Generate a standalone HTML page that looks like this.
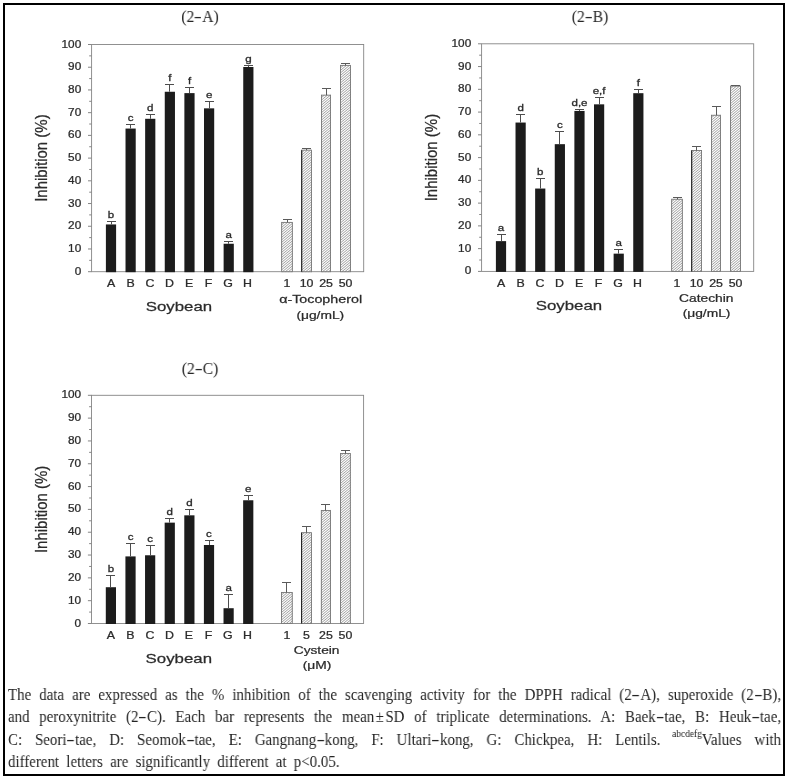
<!DOCTYPE html>
<html lang="en"><head><meta charset="utf-8"><title>Figure 2</title>
<style>
html,body{margin:0;padding:0;background:#fff;}
body{width:789px;height:780px;position:relative;overflow:hidden;font-family:"Liberation Serif","Noto Serif CJK SC",serif;}
#frame{position:absolute;left:3px;top:3px;width:778px;height:769px;border:2px solid #000;}
svg{position:absolute;left:0;top:0;will-change:transform;}
#cap,.ttl{will-change:transform;}
svg text{font-family:"Liberation Sans",sans-serif;fill:#2b2b2b;stroke:#2b2b2b;stroke-width:0.25px;}
.t10{font-size:10px;}
.tx{font-size:10.3px;}
.t9{font-size:9.8px;stroke-width:0.3px;}
.t115{font-size:11.5px;}
.soy{font-size:13.7px;}
.ylab{font-size:15px;}
.ttl{position:absolute;width:80px;text-align:center;transform:scaleX(0.95);font-size:16.6px;line-height:20px;color:#262626;white-space:nowrap;}
.h2{display:inline-block;transform:scaleX(1.5);margin:0 1.4px;}
#cap{position:absolute;left:8px;top:683.5px;width:849.5px;transform:scaleX(0.91);transform-origin:0 0;font-size:16.4px;line-height:22.4px;color:#242424;}
#cap div{text-align:justify;text-align-last:justify;white-space:nowrap;height:22.4px;}
#cap div.last{text-align:left;text-align-last:left;word-spacing:3.9px;}
#cap sup{font-size:10.6px;line-height:0;vertical-align:7.6px;letter-spacing:-0.1px;color:#1c1c1c;margin-left:-1.5px;}
.pm{margin:0 1.6px;}
.h{display:inline-block;transform:scaleX(1.7);margin:0 2px;}
</style></head><body>
<div id="frame"></div>
<svg width="789" height="780" viewBox="0 0 789 780">
<rect x="91.60" y="44.50" width="272.10" height="227.20" fill="none" stroke="#858585" stroke-width="0.9"/>
<line x1="88.00" y1="271.70" x2="91.60" y2="271.70" stroke="#858585" stroke-width="1"/>
<text class="t10" text-anchor="end" transform="translate(81.20,274.70) scale(1.18,1)">0</text>
<line x1="89.20" y1="260.34" x2="91.60" y2="260.34" stroke="#858585" stroke-width="1"/>
<line x1="88.00" y1="248.98" x2="91.60" y2="248.98" stroke="#858585" stroke-width="1"/>
<text class="t10" text-anchor="end" transform="translate(81.20,251.98) scale(1.18,1)">10</text>
<line x1="89.20" y1="237.62" x2="91.60" y2="237.62" stroke="#858585" stroke-width="1"/>
<line x1="88.00" y1="226.26" x2="91.60" y2="226.26" stroke="#858585" stroke-width="1"/>
<text class="t10" text-anchor="end" transform="translate(81.20,229.26) scale(1.18,1)">20</text>
<line x1="89.20" y1="214.90" x2="91.60" y2="214.90" stroke="#858585" stroke-width="1"/>
<line x1="88.00" y1="203.54" x2="91.60" y2="203.54" stroke="#858585" stroke-width="1"/>
<text class="t10" text-anchor="end" transform="translate(81.20,206.54) scale(1.18,1)">30</text>
<line x1="89.20" y1="192.18" x2="91.60" y2="192.18" stroke="#858585" stroke-width="1"/>
<line x1="88.00" y1="180.82" x2="91.60" y2="180.82" stroke="#858585" stroke-width="1"/>
<text class="t10" text-anchor="end" transform="translate(81.20,183.82) scale(1.18,1)">40</text>
<line x1="89.20" y1="169.46" x2="91.60" y2="169.46" stroke="#858585" stroke-width="1"/>
<line x1="88.00" y1="158.10" x2="91.60" y2="158.10" stroke="#858585" stroke-width="1"/>
<text class="t10" text-anchor="end" transform="translate(81.20,161.10) scale(1.18,1)">50</text>
<line x1="89.20" y1="146.74" x2="91.60" y2="146.74" stroke="#858585" stroke-width="1"/>
<line x1="88.00" y1="135.38" x2="91.60" y2="135.38" stroke="#858585" stroke-width="1"/>
<text class="t10" text-anchor="end" transform="translate(81.20,138.38) scale(1.18,1)">60</text>
<line x1="89.20" y1="124.02" x2="91.60" y2="124.02" stroke="#858585" stroke-width="1"/>
<line x1="88.00" y1="112.66" x2="91.60" y2="112.66" stroke="#858585" stroke-width="1"/>
<text class="t10" text-anchor="end" transform="translate(81.20,115.66) scale(1.18,1)">70</text>
<line x1="89.20" y1="101.30" x2="91.60" y2="101.30" stroke="#858585" stroke-width="1"/>
<line x1="88.00" y1="89.94" x2="91.60" y2="89.94" stroke="#858585" stroke-width="1"/>
<text class="t10" text-anchor="end" transform="translate(81.20,92.94) scale(1.18,1)">80</text>
<line x1="89.20" y1="78.58" x2="91.60" y2="78.58" stroke="#858585" stroke-width="1"/>
<line x1="88.00" y1="67.22" x2="91.60" y2="67.22" stroke="#858585" stroke-width="1"/>
<text class="t10" text-anchor="end" transform="translate(81.20,70.22) scale(1.18,1)">90</text>
<line x1="89.20" y1="55.86" x2="91.60" y2="55.86" stroke="#858585" stroke-width="1"/>
<line x1="88.00" y1="44.50" x2="91.60" y2="44.50" stroke="#858585" stroke-width="1"/>
<text class="t10" text-anchor="end" transform="translate(81.20,47.50) scale(1.18,1)">100</text>
<text class="ylab" text-anchor="middle" transform="translate(47.40,158.10) rotate(-90) scale(1,1.12)">Inhibition (%)</text>
<rect x="105.90" y="224.44" width="10.2" height="47.76" fill="#1c1c1c"/>
<path d="M111.50 224.44V221.50M107.00 221.50H116.00" stroke="#4d4d4d" stroke-width="1" fill="none"/>
<text class="t9" text-anchor="middle" transform="translate(111.00,218.20) scale(1.18,1)">b</text>
<text class="tx" text-anchor="middle" transform="translate(111.00,286.90) scale(1.2,1)">A</text>
<rect x="125.52" y="128.56" width="10.2" height="143.64" fill="#1c1c1c"/>
<path d="M130.50 128.56V124.50M126.00 124.50H135.00" stroke="#4d4d4d" stroke-width="1" fill="none"/>
<text class="t9" text-anchor="middle" transform="translate(130.62,121.00) scale(1.18,1)">c</text>
<text class="tx" text-anchor="middle" transform="translate(130.50,286.90) scale(1.2,1)">B</text>
<rect x="145.14" y="118.79" width="10.2" height="153.41" fill="#1c1c1c"/>
<path d="M150.50 118.79V114.50M146.00 114.50H155.00" stroke="#4d4d4d" stroke-width="1" fill="none"/>
<text class="t9" text-anchor="middle" transform="translate(150.24,111.00) scale(1.18,1)">d</text>
<text class="tx" text-anchor="middle" transform="translate(150.00,286.90) scale(1.2,1)">C</text>
<rect x="164.76" y="91.76" width="10.2" height="180.44" fill="#1c1c1c"/>
<path d="M169.50 91.76V84.50M165.00 84.50H174.00" stroke="#4d4d4d" stroke-width="1" fill="none"/>
<text class="t9" text-anchor="middle" transform="translate(169.86,80.90) scale(1.18,1)">f</text>
<text class="tx" text-anchor="middle" transform="translate(169.50,286.90) scale(1.2,1)">D</text>
<rect x="184.38" y="93.12" width="10.2" height="179.08" fill="#1c1c1c"/>
<path d="M189.50 93.12V87.50M185.00 87.50H194.00" stroke="#4d4d4d" stroke-width="1" fill="none"/>
<text class="t9" text-anchor="middle" transform="translate(189.48,83.80) scale(1.18,1)">f</text>
<text class="tx" text-anchor="middle" transform="translate(189.00,286.90) scale(1.2,1)">E</text>
<rect x="204.00" y="108.34" width="10.2" height="163.86" fill="#1c1c1c"/>
<path d="M209.50 108.34V101.50M205.00 101.50H214.00" stroke="#4d4d4d" stroke-width="1" fill="none"/>
<text class="t9" text-anchor="middle" transform="translate(209.10,98.00) scale(1.18,1)">e</text>
<text class="tx" text-anchor="middle" transform="translate(208.50,286.90) scale(1.2,1)">F</text>
<rect x="223.62" y="243.75" width="10.2" height="28.45" fill="#1c1c1c"/>
<path d="M228.50 243.75V241.50M224.00 241.50H233.00" stroke="#4d4d4d" stroke-width="1" fill="none"/>
<text class="t9" text-anchor="middle" transform="translate(228.72,238.10) scale(1.18,1)">a</text>
<text class="tx" text-anchor="middle" transform="translate(228.00,286.90) scale(1.2,1)">G</text>
<rect x="243.24" y="66.99" width="10.2" height="205.21" fill="#1c1c1c"/>
<path d="M248.50 66.99V65.50M244.00 65.50H253.00" stroke="#4d4d4d" stroke-width="1" fill="none"/>
<text class="t9" text-anchor="middle" transform="translate(248.34,62.10) scale(1.18,1)">g</text>
<text class="tx" text-anchor="middle" transform="translate(247.50,286.90) scale(1.2,1)">H</text>
<rect x="281.65" y="222.40" width="10.70" height="49.30" fill="#fbfbfb"/>
<path d="M281.20 222.70L281.56 222.40M281.20 225.20L284.56 222.40M281.20 227.70L287.56 222.40M281.20 230.20L290.56 222.40M281.20 232.70L292.80 223.03M281.20 235.20L292.80 225.53M281.20 237.70L292.80 228.03M281.20 240.20L292.80 230.53M281.20 242.70L292.80 233.03M281.20 245.20L292.80 235.53M281.20 247.70L292.80 238.03M281.20 250.20L292.80 240.53M281.20 252.70L292.80 243.03M281.20 255.20L292.80 245.53M281.20 257.70L292.80 248.03M281.20 260.20L292.80 250.53M281.20 262.70L292.80 253.03M281.20 265.20L292.80 255.53M281.20 267.70L292.80 258.03M281.20 270.20L292.80 260.53M282.40 271.70L292.80 263.03M285.40 271.70L292.80 265.53M288.40 271.70L292.80 268.03M291.40 271.70L292.80 270.53" stroke="#7a7a7a" stroke-width="0.7" fill="none"/>
<rect x="281.65" y="222.40" width="10.70" height="49.30" fill="none" stroke="#777" stroke-width="0.9"/>
<path d="M287.50 222.40V219.50M283.00 219.50H292.00" stroke="#5a5a5a" stroke-width="1" fill="none"/>
<text class="tx" text-anchor="middle" transform="translate(287.00,286.90) scale(1.2,1)">1</text>
<rect x="301.65" y="150.15" width="9.90" height="121.55" fill="#fbfbfb"/>
<path d="M301.20 150.45L301.56 150.15M301.20 152.95L304.56 150.15M301.20 155.45L307.56 150.15M301.20 157.95L310.56 150.15M301.20 160.45L312.00 151.45M301.20 162.95L312.00 153.95M301.20 165.45L312.00 156.45M301.20 167.95L312.00 158.95M301.20 170.45L312.00 161.45M301.20 172.95L312.00 163.95M301.20 175.45L312.00 166.45M301.20 177.95L312.00 168.95M301.20 180.45L312.00 171.45M301.20 182.95L312.00 173.95M301.20 185.45L312.00 176.45M301.20 187.95L312.00 178.95M301.20 190.45L312.00 181.45M301.20 192.95L312.00 183.95M301.20 195.45L312.00 186.45M301.20 197.95L312.00 188.95M301.20 200.45L312.00 191.45M301.20 202.95L312.00 193.95M301.20 205.45L312.00 196.45M301.20 207.95L312.00 198.95M301.20 210.45L312.00 201.45M301.20 212.95L312.00 203.95M301.20 215.45L312.00 206.45M301.20 217.95L312.00 208.95M301.20 220.45L312.00 211.45M301.20 222.95L312.00 213.95M301.20 225.45L312.00 216.45M301.20 227.95L312.00 218.95M301.20 230.45L312.00 221.45M301.20 232.95L312.00 223.95M301.20 235.45L312.00 226.45M301.20 237.95L312.00 228.95M301.20 240.45L312.00 231.45M301.20 242.95L312.00 233.95M301.20 245.45L312.00 236.45M301.20 247.95L312.00 238.95M301.20 250.45L312.00 241.45M301.20 252.95L312.00 243.95M301.20 255.45L312.00 246.45M301.20 257.95L312.00 248.95M301.20 260.45L312.00 251.45M301.20 262.95L312.00 253.95M301.20 265.45L312.00 256.45M301.20 267.95L312.00 258.95M301.20 270.45L312.00 261.45M302.70 271.70L312.00 263.95M305.70 271.70L312.00 266.45M308.70 271.70L312.00 268.95M311.70 271.70L312.00 271.45" stroke="#7a7a7a" stroke-width="0.7" fill="none"/>
<rect x="301.65" y="150.15" width="9.90" height="121.55" fill="none" stroke="#777" stroke-width="0.9"/>
<line x1="301.70" y1="150.15" x2="301.70" y2="271.70" stroke="#222" stroke-width="1.1"/>
<path d="M306.50 150.15V148.50M302.00 148.50H311.00" stroke="#5a5a5a" stroke-width="1" fill="none"/>
<text class="tx" text-anchor="middle" transform="translate(306.60,286.90) scale(1.2,1)">10</text>
<rect x="321.45" y="95.17" width="9.10" height="176.53" fill="#fbfbfb"/>
<path d="M321.00 95.47L321.36 95.17M321.00 97.97L324.36 95.17M321.00 100.47L327.36 95.17M321.00 102.97L330.36 95.17M321.00 105.47L331.00 97.13M321.00 107.97L331.00 99.63M321.00 110.47L331.00 102.13M321.00 112.97L331.00 104.63M321.00 115.47L331.00 107.13M321.00 117.97L331.00 109.63M321.00 120.47L331.00 112.13M321.00 122.97L331.00 114.63M321.00 125.47L331.00 117.13M321.00 127.97L331.00 119.63M321.00 130.47L331.00 122.13M321.00 132.97L331.00 124.63M321.00 135.47L331.00 127.13M321.00 137.97L331.00 129.63M321.00 140.47L331.00 132.13M321.00 142.97L331.00 134.63M321.00 145.47L331.00 137.13M321.00 147.97L331.00 139.63M321.00 150.47L331.00 142.13M321.00 152.97L331.00 144.63M321.00 155.47L331.00 147.13M321.00 157.97L331.00 149.63M321.00 160.47L331.00 152.13M321.00 162.97L331.00 154.63M321.00 165.47L331.00 157.13M321.00 167.97L331.00 159.63M321.00 170.47L331.00 162.13M321.00 172.97L331.00 164.63M321.00 175.47L331.00 167.13M321.00 177.97L331.00 169.63M321.00 180.47L331.00 172.13M321.00 182.97L331.00 174.63M321.00 185.47L331.00 177.13M321.00 187.97L331.00 179.63M321.00 190.47L331.00 182.13M321.00 192.97L331.00 184.63M321.00 195.47L331.00 187.13M321.00 197.97L331.00 189.63M321.00 200.47L331.00 192.13M321.00 202.97L331.00 194.63M321.00 205.47L331.00 197.13M321.00 207.97L331.00 199.63M321.00 210.47L331.00 202.13M321.00 212.97L331.00 204.63M321.00 215.47L331.00 207.13M321.00 217.97L331.00 209.63M321.00 220.47L331.00 212.13M321.00 222.97L331.00 214.63M321.00 225.47L331.00 217.13M321.00 227.97L331.00 219.63M321.00 230.47L331.00 222.13M321.00 232.97L331.00 224.63M321.00 235.47L331.00 227.13M321.00 237.97L331.00 229.63M321.00 240.47L331.00 232.13M321.00 242.97L331.00 234.63M321.00 245.47L331.00 237.13M321.00 247.97L331.00 239.63M321.00 250.47L331.00 242.13M321.00 252.97L331.00 244.63M321.00 255.47L331.00 247.13M321.00 257.97L331.00 249.63M321.00 260.47L331.00 252.13M321.00 262.97L331.00 254.63M321.00 265.47L331.00 257.13M321.00 267.97L331.00 259.63M321.00 270.47L331.00 262.13M322.52 271.70L331.00 264.63M325.52 271.70L331.00 267.13M328.52 271.70L331.00 269.63" stroke="#7a7a7a" stroke-width="0.7" fill="none"/>
<rect x="321.45" y="95.17" width="9.10" height="176.53" fill="none" stroke="#777" stroke-width="0.9"/>
<path d="M326.50 95.17V88.50M322.00 88.50H331.00" stroke="#5a5a5a" stroke-width="1" fill="none"/>
<text class="tx" text-anchor="middle" transform="translate(326.00,286.90) scale(1.2,1)">25</text>
<rect x="340.55" y="65.40" width="9.90" height="206.30" fill="#fbfbfb"/>
<path d="M340.10 65.70L340.46 65.40M340.10 68.20L343.46 65.40M340.10 70.70L346.46 65.40M340.10 73.20L349.46 65.40M340.10 75.70L350.90 66.70M340.10 78.20L350.90 69.20M340.10 80.70L350.90 71.70M340.10 83.20L350.90 74.20M340.10 85.70L350.90 76.70M340.10 88.20L350.90 79.20M340.10 90.70L350.90 81.70M340.10 93.20L350.90 84.20M340.10 95.70L350.90 86.70M340.10 98.20L350.90 89.20M340.10 100.70L350.90 91.70M340.10 103.20L350.90 94.20M340.10 105.70L350.90 96.70M340.10 108.20L350.90 99.20M340.10 110.70L350.90 101.70M340.10 113.20L350.90 104.20M340.10 115.70L350.90 106.70M340.10 118.20L350.90 109.20M340.10 120.70L350.90 111.70M340.10 123.20L350.90 114.20M340.10 125.70L350.90 116.70M340.10 128.20L350.90 119.20M340.10 130.70L350.90 121.70M340.10 133.20L350.90 124.20M340.10 135.70L350.90 126.70M340.10 138.20L350.90 129.20M340.10 140.70L350.90 131.70M340.10 143.20L350.90 134.20M340.10 145.70L350.90 136.70M340.10 148.20L350.90 139.20M340.10 150.70L350.90 141.70M340.10 153.20L350.90 144.20M340.10 155.70L350.90 146.70M340.10 158.20L350.90 149.20M340.10 160.70L350.90 151.70M340.10 163.20L350.90 154.20M340.10 165.70L350.90 156.70M340.10 168.20L350.90 159.20M340.10 170.70L350.90 161.70M340.10 173.20L350.90 164.20M340.10 175.70L350.90 166.70M340.10 178.20L350.90 169.20M340.10 180.70L350.90 171.70M340.10 183.20L350.90 174.20M340.10 185.70L350.90 176.70M340.10 188.20L350.90 179.20M340.10 190.70L350.90 181.70M340.10 193.20L350.90 184.20M340.10 195.70L350.90 186.70M340.10 198.20L350.90 189.20M340.10 200.70L350.90 191.70M340.10 203.20L350.90 194.20M340.10 205.70L350.90 196.70M340.10 208.20L350.90 199.20M340.10 210.70L350.90 201.70M340.10 213.20L350.90 204.20M340.10 215.70L350.90 206.70M340.10 218.20L350.90 209.20M340.10 220.70L350.90 211.70M340.10 223.20L350.90 214.20M340.10 225.70L350.90 216.70M340.10 228.20L350.90 219.20M340.10 230.70L350.90 221.70M340.10 233.20L350.90 224.20M340.10 235.70L350.90 226.70M340.10 238.20L350.90 229.20M340.10 240.70L350.90 231.70M340.10 243.20L350.90 234.20M340.10 245.70L350.90 236.70M340.10 248.20L350.90 239.20M340.10 250.70L350.90 241.70M340.10 253.20L350.90 244.20M340.10 255.70L350.90 246.70M340.10 258.20L350.90 249.20M340.10 260.70L350.90 251.70M340.10 263.20L350.90 254.20M340.10 265.70L350.90 256.70M340.10 268.20L350.90 259.20M340.10 270.70L350.90 261.70M341.90 271.70L350.90 264.20M344.90 271.70L350.90 266.70M347.90 271.70L350.90 269.20" stroke="#7a7a7a" stroke-width="0.7" fill="none"/>
<rect x="340.55" y="65.40" width="9.90" height="206.30" fill="none" stroke="#777" stroke-width="0.9"/>
<path d="M345.50 65.40V63.50M341.00 63.50H350.00" stroke="#5a5a5a" stroke-width="1" fill="none"/>
<text class="tx" text-anchor="middle" transform="translate(345.50,286.90) scale(1.2,1)">50</text>
<text class="soy" text-anchor="middle" transform="translate(178.90,310.70) scale(1.23,1)">Soybean</text>
<text class="t115" text-anchor="middle" transform="translate(320.61,302.80) scale(1.245,1)">α-Tocopherol</text>
<text class="t115" text-anchor="middle" transform="translate(320.31,318.70) scale(1.2,1)">(μg/mL)</text>
<rect x="481.60" y="43.80" width="272.10" height="227.60" fill="none" stroke="#858585" stroke-width="0.9"/>
<line x1="478.00" y1="271.40" x2="481.60" y2="271.40" stroke="#858585" stroke-width="1"/>
<text class="t10" text-anchor="end" transform="translate(471.20,274.40) scale(1.18,1)">0</text>
<line x1="479.20" y1="260.02" x2="481.60" y2="260.02" stroke="#858585" stroke-width="1"/>
<line x1="478.00" y1="248.64" x2="481.60" y2="248.64" stroke="#858585" stroke-width="1"/>
<text class="t10" text-anchor="end" transform="translate(471.20,251.64) scale(1.18,1)">10</text>
<line x1="479.20" y1="237.26" x2="481.60" y2="237.26" stroke="#858585" stroke-width="1"/>
<line x1="478.00" y1="225.88" x2="481.60" y2="225.88" stroke="#858585" stroke-width="1"/>
<text class="t10" text-anchor="end" transform="translate(471.20,228.88) scale(1.18,1)">20</text>
<line x1="479.20" y1="214.50" x2="481.60" y2="214.50" stroke="#858585" stroke-width="1"/>
<line x1="478.00" y1="203.12" x2="481.60" y2="203.12" stroke="#858585" stroke-width="1"/>
<text class="t10" text-anchor="end" transform="translate(471.20,206.12) scale(1.18,1)">30</text>
<line x1="479.20" y1="191.74" x2="481.60" y2="191.74" stroke="#858585" stroke-width="1"/>
<line x1="478.00" y1="180.36" x2="481.60" y2="180.36" stroke="#858585" stroke-width="1"/>
<text class="t10" text-anchor="end" transform="translate(471.20,183.36) scale(1.18,1)">40</text>
<line x1="479.20" y1="168.98" x2="481.60" y2="168.98" stroke="#858585" stroke-width="1"/>
<line x1="478.00" y1="157.60" x2="481.60" y2="157.60" stroke="#858585" stroke-width="1"/>
<text class="t10" text-anchor="end" transform="translate(471.20,160.60) scale(1.18,1)">50</text>
<line x1="479.20" y1="146.22" x2="481.60" y2="146.22" stroke="#858585" stroke-width="1"/>
<line x1="478.00" y1="134.84" x2="481.60" y2="134.84" stroke="#858585" stroke-width="1"/>
<text class="t10" text-anchor="end" transform="translate(471.20,137.84) scale(1.18,1)">60</text>
<line x1="479.20" y1="123.46" x2="481.60" y2="123.46" stroke="#858585" stroke-width="1"/>
<line x1="478.00" y1="112.08" x2="481.60" y2="112.08" stroke="#858585" stroke-width="1"/>
<text class="t10" text-anchor="end" transform="translate(471.20,115.08) scale(1.18,1)">70</text>
<line x1="479.20" y1="100.70" x2="481.60" y2="100.70" stroke="#858585" stroke-width="1"/>
<line x1="478.00" y1="89.32" x2="481.60" y2="89.32" stroke="#858585" stroke-width="1"/>
<text class="t10" text-anchor="end" transform="translate(471.20,92.32) scale(1.18,1)">80</text>
<line x1="479.20" y1="77.94" x2="481.60" y2="77.94" stroke="#858585" stroke-width="1"/>
<line x1="478.00" y1="66.56" x2="481.60" y2="66.56" stroke="#858585" stroke-width="1"/>
<text class="t10" text-anchor="end" transform="translate(471.20,69.56) scale(1.18,1)">90</text>
<line x1="479.20" y1="55.18" x2="481.60" y2="55.18" stroke="#858585" stroke-width="1"/>
<line x1="478.00" y1="43.80" x2="481.60" y2="43.80" stroke="#858585" stroke-width="1"/>
<text class="t10" text-anchor="end" transform="translate(471.20,46.80) scale(1.18,1)">100</text>
<text class="ylab" text-anchor="middle" transform="translate(437.40,157.60) rotate(-90) scale(1,1.12)">Inhibition (%)</text>
<rect x="495.90" y="241.13" width="10.2" height="30.77" fill="#1c1c1c"/>
<path d="M501.50 241.13V234.50M497.00 234.50H506.00" stroke="#4d4d4d" stroke-width="1" fill="none"/>
<text class="t9" text-anchor="middle" transform="translate(501.00,231.00) scale(1.18,1)">a</text>
<text class="tx" text-anchor="middle" transform="translate(501.00,286.60) scale(1.2,1)">A</text>
<rect x="515.52" y="122.55" width="10.2" height="149.35" fill="#1c1c1c"/>
<path d="M520.50 122.55V114.50M516.00 114.50H525.00" stroke="#4d4d4d" stroke-width="1" fill="none"/>
<text class="t9" text-anchor="middle" transform="translate(520.62,111.00) scale(1.18,1)">d</text>
<text class="tx" text-anchor="middle" transform="translate(520.50,286.60) scale(1.2,1)">B</text>
<rect x="535.14" y="188.55" width="10.2" height="83.35" fill="#1c1c1c"/>
<path d="M540.50 188.55V178.50M536.00 178.50H545.00" stroke="#4d4d4d" stroke-width="1" fill="none"/>
<text class="t9" text-anchor="middle" transform="translate(540.24,174.90) scale(1.18,1)">b</text>
<text class="tx" text-anchor="middle" transform="translate(540.00,286.60) scale(1.2,1)">C</text>
<rect x="554.76" y="144.17" width="10.2" height="127.73" fill="#1c1c1c"/>
<path d="M559.50 144.17V131.50M555.00 131.50H564.00" stroke="#4d4d4d" stroke-width="1" fill="none"/>
<text class="t9" text-anchor="middle" transform="translate(559.86,127.90) scale(1.18,1)">c</text>
<text class="tx" text-anchor="middle" transform="translate(559.50,286.60) scale(1.2,1)">D</text>
<rect x="574.38" y="110.94" width="10.2" height="160.96" fill="#1c1c1c"/>
<path d="M579.50 110.94V109.50M575.00 109.50H584.00" stroke="#4d4d4d" stroke-width="1" fill="none"/>
<text class="t9" text-anchor="middle" transform="translate(579.48,106.20) scale(1.18,1)">d,e</text>
<text class="tx" text-anchor="middle" transform="translate(579.00,286.60) scale(1.2,1)">E</text>
<rect x="594.00" y="104.34" width="10.2" height="167.56" fill="#1c1c1c"/>
<path d="M599.50 104.34V97.50M595.00 97.50H604.00" stroke="#4d4d4d" stroke-width="1" fill="none"/>
<text class="t9" text-anchor="middle" transform="translate(599.10,94.10) scale(1.18,1)">e,f</text>
<text class="tx" text-anchor="middle" transform="translate(598.50,286.60) scale(1.2,1)">F</text>
<rect x="613.62" y="253.65" width="10.2" height="18.25" fill="#1c1c1c"/>
<path d="M618.50 253.65V249.50M614.00 249.50H623.00" stroke="#4d4d4d" stroke-width="1" fill="none"/>
<text class="t9" text-anchor="middle" transform="translate(618.72,245.90) scale(1.18,1)">a</text>
<text class="tx" text-anchor="middle" transform="translate(618.00,286.60) scale(1.2,1)">G</text>
<rect x="633.24" y="93.19" width="10.2" height="178.71" fill="#1c1c1c"/>
<path d="M638.50 93.19V89.50M634.00 89.50H643.00" stroke="#4d4d4d" stroke-width="1" fill="none"/>
<text class="t9" text-anchor="middle" transform="translate(638.34,85.90) scale(1.18,1)">f</text>
<text class="tx" text-anchor="middle" transform="translate(637.50,286.60) scale(1.2,1)">H</text>
<rect x="671.65" y="199.25" width="10.70" height="72.15" fill="#fbfbfb"/>
<path d="M671.20 199.55L671.56 199.25M671.20 202.05L674.56 199.25M671.20 204.55L677.56 199.25M671.20 207.05L680.56 199.25M671.20 209.55L682.80 199.88M671.20 212.05L682.80 202.38M671.20 214.55L682.80 204.88M671.20 217.05L682.80 207.38M671.20 219.55L682.80 209.88M671.20 222.05L682.80 212.38M671.20 224.55L682.80 214.88M671.20 227.05L682.80 217.38M671.20 229.55L682.80 219.88M671.20 232.05L682.80 222.38M671.20 234.55L682.80 224.88M671.20 237.05L682.80 227.38M671.20 239.55L682.80 229.88M671.20 242.05L682.80 232.38M671.20 244.55L682.80 234.88M671.20 247.05L682.80 237.38M671.20 249.55L682.80 239.88M671.20 252.05L682.80 242.38M671.20 254.55L682.80 244.88M671.20 257.05L682.80 247.38M671.20 259.55L682.80 249.88M671.20 262.05L682.80 252.38M671.20 264.55L682.80 254.88M671.20 267.05L682.80 257.38M671.20 269.55L682.80 259.88M671.98 271.40L682.80 262.38M674.98 271.40L682.80 264.88M677.98 271.40L682.80 267.38M680.98 271.40L682.80 269.88" stroke="#7a7a7a" stroke-width="0.7" fill="none"/>
<rect x="671.65" y="199.25" width="10.70" height="72.15" fill="none" stroke="#777" stroke-width="0.9"/>
<path d="M677.50 199.25V197.50M673.00 197.50H682.00" stroke="#5a5a5a" stroke-width="1" fill="none"/>
<text class="tx" text-anchor="middle" transform="translate(677.00,286.60) scale(1.2,1)">1</text>
<rect x="691.65" y="150.54" width="9.90" height="120.86" fill="#fbfbfb"/>
<path d="M691.20 150.84L691.56 150.54M691.20 153.34L694.56 150.54M691.20 155.84L697.56 150.54M691.20 158.34L700.56 150.54M691.20 160.84L702.00 151.84M691.20 163.34L702.00 154.34M691.20 165.84L702.00 156.84M691.20 168.34L702.00 159.34M691.20 170.84L702.00 161.84M691.20 173.34L702.00 164.34M691.20 175.84L702.00 166.84M691.20 178.34L702.00 169.34M691.20 180.84L702.00 171.84M691.20 183.34L702.00 174.34M691.20 185.84L702.00 176.84M691.20 188.34L702.00 179.34M691.20 190.84L702.00 181.84M691.20 193.34L702.00 184.34M691.20 195.84L702.00 186.84M691.20 198.34L702.00 189.34M691.20 200.84L702.00 191.84M691.20 203.34L702.00 194.34M691.20 205.84L702.00 196.84M691.20 208.34L702.00 199.34M691.20 210.84L702.00 201.84M691.20 213.34L702.00 204.34M691.20 215.84L702.00 206.84M691.20 218.34L702.00 209.34M691.20 220.84L702.00 211.84M691.20 223.34L702.00 214.34M691.20 225.84L702.00 216.84M691.20 228.34L702.00 219.34M691.20 230.84L702.00 221.84M691.20 233.34L702.00 224.34M691.20 235.84L702.00 226.84M691.20 238.34L702.00 229.34M691.20 240.84L702.00 231.84M691.20 243.34L702.00 234.34M691.20 245.84L702.00 236.84M691.20 248.34L702.00 239.34M691.20 250.84L702.00 241.84M691.20 253.34L702.00 244.34M691.20 255.84L702.00 246.84M691.20 258.34L702.00 249.34M691.20 260.84L702.00 251.84M691.20 263.34L702.00 254.34M691.20 265.84L702.00 256.84M691.20 268.34L702.00 259.34M691.20 270.84L702.00 261.84M693.53 271.40L702.00 264.34M696.53 271.40L702.00 266.84M699.53 271.40L702.00 269.34" stroke="#7a7a7a" stroke-width="0.7" fill="none"/>
<rect x="691.65" y="150.54" width="9.90" height="120.86" fill="none" stroke="#777" stroke-width="0.9"/>
<line x1="691.70" y1="150.54" x2="691.70" y2="271.40" stroke="#222" stroke-width="1.1"/>
<path d="M696.50 150.54V146.50M692.00 146.50H701.00" stroke="#5a5a5a" stroke-width="1" fill="none"/>
<text class="tx" text-anchor="middle" transform="translate(696.60,286.60) scale(1.2,1)">10</text>
<rect x="711.45" y="115.27" width="9.10" height="156.13" fill="#fbfbfb"/>
<path d="M711.00 115.57L711.36 115.27M711.00 118.07L714.36 115.27M711.00 120.57L717.36 115.27M711.00 123.07L720.36 115.27M711.00 125.57L721.00 117.23M711.00 128.07L721.00 119.73M711.00 130.57L721.00 122.23M711.00 133.07L721.00 124.73M711.00 135.57L721.00 127.23M711.00 138.07L721.00 129.73M711.00 140.57L721.00 132.23M711.00 143.07L721.00 134.73M711.00 145.57L721.00 137.23M711.00 148.07L721.00 139.73M711.00 150.57L721.00 142.23M711.00 153.07L721.00 144.73M711.00 155.57L721.00 147.23M711.00 158.07L721.00 149.73M711.00 160.57L721.00 152.23M711.00 163.07L721.00 154.73M711.00 165.57L721.00 157.23M711.00 168.07L721.00 159.73M711.00 170.57L721.00 162.23M711.00 173.07L721.00 164.73M711.00 175.57L721.00 167.23M711.00 178.07L721.00 169.73M711.00 180.57L721.00 172.23M711.00 183.07L721.00 174.73M711.00 185.57L721.00 177.23M711.00 188.07L721.00 179.73M711.00 190.57L721.00 182.23M711.00 193.07L721.00 184.73M711.00 195.57L721.00 187.23M711.00 198.07L721.00 189.73M711.00 200.57L721.00 192.23M711.00 203.07L721.00 194.73M711.00 205.57L721.00 197.23M711.00 208.07L721.00 199.73M711.00 210.57L721.00 202.23M711.00 213.07L721.00 204.73M711.00 215.57L721.00 207.23M711.00 218.07L721.00 209.73M711.00 220.57L721.00 212.23M711.00 223.07L721.00 214.73M711.00 225.57L721.00 217.23M711.00 228.07L721.00 219.73M711.00 230.57L721.00 222.23M711.00 233.07L721.00 224.73M711.00 235.57L721.00 227.23M711.00 238.07L721.00 229.73M711.00 240.57L721.00 232.23M711.00 243.07L721.00 234.73M711.00 245.57L721.00 237.23M711.00 248.07L721.00 239.73M711.00 250.57L721.00 242.23M711.00 253.07L721.00 244.73M711.00 255.57L721.00 247.23M711.00 258.07L721.00 249.73M711.00 260.57L721.00 252.23M711.00 263.07L721.00 254.73M711.00 265.57L721.00 257.23M711.00 268.07L721.00 259.73M711.00 270.57L721.00 262.23M713.00 271.40L721.00 264.73M716.00 271.40L721.00 267.23M719.00 271.40L721.00 269.73" stroke="#7a7a7a" stroke-width="0.7" fill="none"/>
<rect x="711.45" y="115.27" width="9.10" height="156.13" fill="none" stroke="#777" stroke-width="0.9"/>
<path d="M716.50 115.27V106.50M712.00 106.50H721.00" stroke="#5a5a5a" stroke-width="1" fill="none"/>
<text class="tx" text-anchor="middle" transform="translate(716.00,286.60) scale(1.2,1)">25</text>
<rect x="730.55" y="86.13" width="9.90" height="185.27" fill="#fbfbfb"/>
<path d="M730.10 86.43L730.46 86.13M730.10 88.93L733.46 86.13M730.10 91.43L736.46 86.13M730.10 93.93L739.46 86.13M730.10 96.43L740.90 87.43M730.10 98.93L740.90 89.93M730.10 101.43L740.90 92.43M730.10 103.93L740.90 94.93M730.10 106.43L740.90 97.43M730.10 108.93L740.90 99.93M730.10 111.43L740.90 102.43M730.10 113.93L740.90 104.93M730.10 116.43L740.90 107.43M730.10 118.93L740.90 109.93M730.10 121.43L740.90 112.43M730.10 123.93L740.90 114.93M730.10 126.43L740.90 117.43M730.10 128.93L740.90 119.93M730.10 131.43L740.90 122.43M730.10 133.93L740.90 124.93M730.10 136.43L740.90 127.43M730.10 138.93L740.90 129.93M730.10 141.43L740.90 132.43M730.10 143.93L740.90 134.93M730.10 146.43L740.90 137.43M730.10 148.93L740.90 139.93M730.10 151.43L740.90 142.43M730.10 153.93L740.90 144.93M730.10 156.43L740.90 147.43M730.10 158.93L740.90 149.93M730.10 161.43L740.90 152.43M730.10 163.93L740.90 154.93M730.10 166.43L740.90 157.43M730.10 168.93L740.90 159.93M730.10 171.43L740.90 162.43M730.10 173.93L740.90 164.93M730.10 176.43L740.90 167.43M730.10 178.93L740.90 169.93M730.10 181.43L740.90 172.43M730.10 183.93L740.90 174.93M730.10 186.43L740.90 177.43M730.10 188.93L740.90 179.93M730.10 191.43L740.90 182.43M730.10 193.93L740.90 184.93M730.10 196.43L740.90 187.43M730.10 198.93L740.90 189.93M730.10 201.43L740.90 192.43M730.10 203.93L740.90 194.93M730.10 206.43L740.90 197.43M730.10 208.93L740.90 199.93M730.10 211.43L740.90 202.43M730.10 213.93L740.90 204.93M730.10 216.43L740.90 207.43M730.10 218.93L740.90 209.93M730.10 221.43L740.90 212.43M730.10 223.93L740.90 214.93M730.10 226.43L740.90 217.43M730.10 228.93L740.90 219.93M730.10 231.43L740.90 222.43M730.10 233.93L740.90 224.93M730.10 236.43L740.90 227.43M730.10 238.93L740.90 229.93M730.10 241.43L740.90 232.43M730.10 243.93L740.90 234.93M730.10 246.43L740.90 237.43M730.10 248.93L740.90 239.93M730.10 251.43L740.90 242.43M730.10 253.93L740.90 244.93M730.10 256.43L740.90 247.43M730.10 258.93L740.90 249.93M730.10 261.43L740.90 252.43M730.10 263.93L740.90 254.93M730.10 266.43L740.90 257.43M730.10 268.93L740.90 259.93M730.14 271.40L740.90 262.43M733.14 271.40L740.90 264.93M736.14 271.40L740.90 267.43M739.14 271.40L740.90 269.93" stroke="#7a7a7a" stroke-width="0.7" fill="none"/>
<rect x="730.55" y="86.13" width="9.90" height="185.27" fill="none" stroke="#777" stroke-width="0.9"/>
<path d="M735.50 86.13V85.50M731.00 85.50H740.00" stroke="#5a5a5a" stroke-width="1" fill="none"/>
<text class="tx" text-anchor="middle" transform="translate(735.50,286.60) scale(1.2,1)">50</text>
<text class="soy" text-anchor="middle" transform="translate(568.90,310.40) scale(1.23,1)">Soybean</text>
<text class="t115" text-anchor="middle" transform="translate(706.21,302.20) scale(1.2,1)">Catechin</text>
<text class="t115" text-anchor="middle" transform="translate(706.51,317.00) scale(1.2,1)">(μg/mL)</text>
<rect x="91.50" y="395.30" width="272.10" height="228.20" fill="none" stroke="#858585" stroke-width="0.9"/>
<line x1="87.90" y1="623.50" x2="91.50" y2="623.50" stroke="#858585" stroke-width="1"/>
<text class="t10" text-anchor="end" transform="translate(81.10,626.50) scale(1.18,1)">0</text>
<line x1="89.10" y1="612.09" x2="91.50" y2="612.09" stroke="#858585" stroke-width="1"/>
<line x1="87.90" y1="600.68" x2="91.50" y2="600.68" stroke="#858585" stroke-width="1"/>
<text class="t10" text-anchor="end" transform="translate(81.10,603.68) scale(1.18,1)">10</text>
<line x1="89.10" y1="589.27" x2="91.50" y2="589.27" stroke="#858585" stroke-width="1"/>
<line x1="87.90" y1="577.86" x2="91.50" y2="577.86" stroke="#858585" stroke-width="1"/>
<text class="t10" text-anchor="end" transform="translate(81.10,580.86) scale(1.18,1)">20</text>
<line x1="89.10" y1="566.45" x2="91.50" y2="566.45" stroke="#858585" stroke-width="1"/>
<line x1="87.90" y1="555.04" x2="91.50" y2="555.04" stroke="#858585" stroke-width="1"/>
<text class="t10" text-anchor="end" transform="translate(81.10,558.04) scale(1.18,1)">30</text>
<line x1="89.10" y1="543.63" x2="91.50" y2="543.63" stroke="#858585" stroke-width="1"/>
<line x1="87.90" y1="532.22" x2="91.50" y2="532.22" stroke="#858585" stroke-width="1"/>
<text class="t10" text-anchor="end" transform="translate(81.10,535.22) scale(1.18,1)">40</text>
<line x1="89.10" y1="520.81" x2="91.50" y2="520.81" stroke="#858585" stroke-width="1"/>
<line x1="87.90" y1="509.40" x2="91.50" y2="509.40" stroke="#858585" stroke-width="1"/>
<text class="t10" text-anchor="end" transform="translate(81.10,512.40) scale(1.18,1)">50</text>
<line x1="89.10" y1="497.99" x2="91.50" y2="497.99" stroke="#858585" stroke-width="1"/>
<line x1="87.90" y1="486.58" x2="91.50" y2="486.58" stroke="#858585" stroke-width="1"/>
<text class="t10" text-anchor="end" transform="translate(81.10,489.58) scale(1.18,1)">60</text>
<line x1="89.10" y1="475.17" x2="91.50" y2="475.17" stroke="#858585" stroke-width="1"/>
<line x1="87.90" y1="463.76" x2="91.50" y2="463.76" stroke="#858585" stroke-width="1"/>
<text class="t10" text-anchor="end" transform="translate(81.10,466.76) scale(1.18,1)">70</text>
<line x1="89.10" y1="452.35" x2="91.50" y2="452.35" stroke="#858585" stroke-width="1"/>
<line x1="87.90" y1="440.94" x2="91.50" y2="440.94" stroke="#858585" stroke-width="1"/>
<text class="t10" text-anchor="end" transform="translate(81.10,443.94) scale(1.18,1)">80</text>
<line x1="89.10" y1="429.53" x2="91.50" y2="429.53" stroke="#858585" stroke-width="1"/>
<line x1="87.90" y1="418.12" x2="91.50" y2="418.12" stroke="#858585" stroke-width="1"/>
<text class="t10" text-anchor="end" transform="translate(81.10,421.12) scale(1.18,1)">90</text>
<line x1="89.10" y1="406.71" x2="91.50" y2="406.71" stroke="#858585" stroke-width="1"/>
<line x1="87.90" y1="395.30" x2="91.50" y2="395.30" stroke="#858585" stroke-width="1"/>
<text class="t10" text-anchor="end" transform="translate(81.10,398.30) scale(1.18,1)">100</text>
<text class="ylab" text-anchor="middle" transform="translate(47.30,509.40) rotate(-90) scale(1,1.12)">Inhibition (%)</text>
<rect x="105.80" y="587.22" width="10.2" height="36.78" fill="#1c1c1c"/>
<path d="M110.50 587.22V575.50M106.00 575.50H115.00" stroke="#4d4d4d" stroke-width="1" fill="none"/>
<text class="t9" text-anchor="middle" transform="translate(110.90,572.10) scale(1.18,1)">b</text>
<text class="tx" text-anchor="middle" transform="translate(110.90,638.70) scale(1.2,1)">A</text>
<rect x="125.42" y="556.41" width="10.2" height="67.59" fill="#1c1c1c"/>
<path d="M130.50 556.41V543.50M126.00 543.50H135.00" stroke="#4d4d4d" stroke-width="1" fill="none"/>
<text class="t9" text-anchor="middle" transform="translate(130.52,540.10) scale(1.18,1)">c</text>
<text class="tx" text-anchor="middle" transform="translate(130.40,638.70) scale(1.2,1)">B</text>
<rect x="145.04" y="555.27" width="10.2" height="68.73" fill="#1c1c1c"/>
<path d="M150.50 555.27V545.50M146.00 545.50H155.00" stroke="#4d4d4d" stroke-width="1" fill="none"/>
<text class="t9" text-anchor="middle" transform="translate(150.14,541.90) scale(1.18,1)">c</text>
<text class="tx" text-anchor="middle" transform="translate(149.90,638.70) scale(1.2,1)">C</text>
<rect x="164.66" y="522.64" width="10.2" height="101.36" fill="#1c1c1c"/>
<path d="M169.50 522.64V518.50M165.00 518.50H174.00" stroke="#4d4d4d" stroke-width="1" fill="none"/>
<text class="t9" text-anchor="middle" transform="translate(169.76,514.90) scale(1.18,1)">d</text>
<text class="tx" text-anchor="middle" transform="translate(169.40,638.70) scale(1.2,1)">D</text>
<rect x="184.28" y="515.33" width="10.2" height="108.67" fill="#1c1c1c"/>
<path d="M189.50 515.33V509.50M185.00 509.50H194.00" stroke="#4d4d4d" stroke-width="1" fill="none"/>
<text class="t9" text-anchor="middle" transform="translate(189.38,506.10) scale(1.18,1)">d</text>
<text class="tx" text-anchor="middle" transform="translate(188.90,638.70) scale(1.2,1)">E</text>
<rect x="203.90" y="545.00" width="10.2" height="79.00" fill="#1c1c1c"/>
<path d="M209.50 545.00V540.50M205.00 540.50H214.00" stroke="#4d4d4d" stroke-width="1" fill="none"/>
<text class="t9" text-anchor="middle" transform="translate(209.00,537.30) scale(1.18,1)">c</text>
<text class="tx" text-anchor="middle" transform="translate(208.40,638.70) scale(1.2,1)">F</text>
<rect x="223.52" y="608.21" width="10.2" height="15.79" fill="#1c1c1c"/>
<path d="M228.50 608.21V594.50M224.00 594.50H233.00" stroke="#4d4d4d" stroke-width="1" fill="none"/>
<text class="t9" text-anchor="middle" transform="translate(228.62,590.90) scale(1.18,1)">a</text>
<text class="tx" text-anchor="middle" transform="translate(227.90,638.70) scale(1.2,1)">G</text>
<rect x="243.14" y="500.27" width="10.2" height="123.73" fill="#1c1c1c"/>
<path d="M248.50 500.27V495.50M244.00 495.50H253.00" stroke="#4d4d4d" stroke-width="1" fill="none"/>
<text class="t9" text-anchor="middle" transform="translate(248.24,491.90) scale(1.18,1)">e</text>
<text class="tx" text-anchor="middle" transform="translate(247.40,638.70) scale(1.2,1)">H</text>
<rect x="281.55" y="592.46" width="10.70" height="31.04" fill="#fbfbfb"/>
<path d="M281.10 592.76L281.46 592.46M281.10 595.26L284.46 592.46M281.10 597.76L287.46 592.46M281.10 600.26L290.46 592.46M281.10 602.76L292.70 593.10M281.10 605.26L292.70 595.60M281.10 607.76L292.70 598.10M281.10 610.26L292.70 600.60M281.10 612.76L292.70 603.10M281.10 615.26L292.70 605.60M281.10 617.76L292.70 608.10M281.10 620.26L292.70 610.60M281.10 622.76L292.70 613.10M283.22 623.50L292.70 615.60M286.22 623.50L292.70 618.10M289.22 623.50L292.70 620.60M292.22 623.50L292.70 623.10" stroke="#7a7a7a" stroke-width="0.7" fill="none"/>
<rect x="281.55" y="592.46" width="10.70" height="31.04" fill="none" stroke="#777" stroke-width="0.9"/>
<path d="M286.50 592.46V582.50M282.00 582.50H291.00" stroke="#5a5a5a" stroke-width="1" fill="none"/>
<text class="tx" text-anchor="middle" transform="translate(286.90,638.70) scale(1.2,1)">1</text>
<rect x="301.55" y="532.68" width="9.90" height="90.82" fill="#fbfbfb"/>
<path d="M301.10 532.98L301.46 532.68M301.10 535.48L304.46 532.68M301.10 537.98L307.46 532.68M301.10 540.48L310.46 532.68M301.10 542.98L311.90 533.98M301.10 545.48L311.90 536.48M301.10 547.98L311.90 538.98M301.10 550.48L311.90 541.48M301.10 552.98L311.90 543.98M301.10 555.48L311.90 546.48M301.10 557.98L311.90 548.98M301.10 560.48L311.90 551.48M301.10 562.98L311.90 553.98M301.10 565.48L311.90 556.48M301.10 567.98L311.90 558.98M301.10 570.48L311.90 561.48M301.10 572.98L311.90 563.98M301.10 575.48L311.90 566.48M301.10 577.98L311.90 568.98M301.10 580.48L311.90 571.48M301.10 582.98L311.90 573.98M301.10 585.48L311.90 576.48M301.10 587.98L311.90 578.98M301.10 590.48L311.90 581.48M301.10 592.98L311.90 583.98M301.10 595.48L311.90 586.48M301.10 597.98L311.90 588.98M301.10 600.48L311.90 591.48M301.10 602.98L311.90 593.98M301.10 605.48L311.90 596.48M301.10 607.98L311.90 598.98M301.10 610.48L311.90 601.48M301.10 612.98L311.90 603.98M301.10 615.48L311.90 606.48M301.10 617.98L311.90 608.98M301.10 620.48L311.90 611.48M301.10 622.98L311.90 613.98M303.47 623.50L311.90 616.48M306.47 623.50L311.90 618.98M309.47 623.50L311.90 621.48" stroke="#7a7a7a" stroke-width="0.7" fill="none"/>
<rect x="301.55" y="532.68" width="9.90" height="90.82" fill="none" stroke="#777" stroke-width="0.9"/>
<line x1="301.60" y1="532.68" x2="301.60" y2="623.50" stroke="#222" stroke-width="1.1"/>
<path d="M306.50 532.68V526.50M302.00 526.50H311.00" stroke="#5a5a5a" stroke-width="1" fill="none"/>
<text class="tx" text-anchor="middle" transform="translate(306.50,638.70) scale(1.2,1)">5</text>
<rect x="321.35" y="510.54" width="9.10" height="112.96" fill="#fbfbfb"/>
<path d="M320.90 510.84L321.26 510.54M320.90 513.34L324.26 510.54M320.90 515.84L327.26 510.54M320.90 518.34L330.26 510.54M320.90 520.84L330.90 512.51M320.90 523.34L330.90 515.01M320.90 525.84L330.90 517.51M320.90 528.34L330.90 520.01M320.90 530.84L330.90 522.51M320.90 533.34L330.90 525.01M320.90 535.84L330.90 527.51M320.90 538.34L330.90 530.01M320.90 540.84L330.90 532.51M320.90 543.34L330.90 535.01M320.90 545.84L330.90 537.51M320.90 548.34L330.90 540.01M320.90 550.84L330.90 542.51M320.90 553.34L330.90 545.01M320.90 555.84L330.90 547.51M320.90 558.34L330.90 550.01M320.90 560.84L330.90 552.51M320.90 563.34L330.90 555.01M320.90 565.84L330.90 557.51M320.90 568.34L330.90 560.01M320.90 570.84L330.90 562.51M320.90 573.34L330.90 565.01M320.90 575.84L330.90 567.51M320.90 578.34L330.90 570.01M320.90 580.84L330.90 572.51M320.90 583.34L330.90 575.01M320.90 585.84L330.90 577.51M320.90 588.34L330.90 580.01M320.90 590.84L330.90 582.51M320.90 593.34L330.90 585.01M320.90 595.84L330.90 587.51M320.90 598.34L330.90 590.01M320.90 600.84L330.90 592.51M320.90 603.34L330.90 595.01M320.90 605.84L330.90 597.51M320.90 608.34L330.90 600.01M320.90 610.84L330.90 602.51M320.90 613.34L330.90 605.01M320.90 615.84L330.90 607.51M320.90 618.34L330.90 610.01M320.90 620.84L330.90 612.51M320.90 623.34L330.90 615.01M323.71 623.50L330.90 617.51M326.71 623.50L330.90 620.01M329.71 623.50L330.90 622.51" stroke="#7a7a7a" stroke-width="0.7" fill="none"/>
<rect x="321.35" y="510.54" width="9.10" height="112.96" fill="none" stroke="#777" stroke-width="0.9"/>
<path d="M325.50 510.54V504.50M321.00 504.50H330.00" stroke="#5a5a5a" stroke-width="1" fill="none"/>
<text class="tx" text-anchor="middle" transform="translate(325.90,638.70) scale(1.2,1)">25</text>
<rect x="340.45" y="453.49" width="9.90" height="170.01" fill="#fbfbfb"/>
<path d="M340.00 453.79L340.36 453.49M340.00 456.29L343.36 453.49M340.00 458.79L346.36 453.49M340.00 461.29L349.36 453.49M340.00 463.79L350.80 454.79M340.00 466.29L350.80 457.29M340.00 468.79L350.80 459.79M340.00 471.29L350.80 462.29M340.00 473.79L350.80 464.79M340.00 476.29L350.80 467.29M340.00 478.79L350.80 469.79M340.00 481.29L350.80 472.29M340.00 483.79L350.80 474.79M340.00 486.29L350.80 477.29M340.00 488.79L350.80 479.79M340.00 491.29L350.80 482.29M340.00 493.79L350.80 484.79M340.00 496.29L350.80 487.29M340.00 498.79L350.80 489.79M340.00 501.29L350.80 492.29M340.00 503.79L350.80 494.79M340.00 506.29L350.80 497.29M340.00 508.79L350.80 499.79M340.00 511.29L350.80 502.29M340.00 513.79L350.80 504.79M340.00 516.29L350.80 507.29M340.00 518.79L350.80 509.79M340.00 521.29L350.80 512.29M340.00 523.79L350.80 514.79M340.00 526.29L350.80 517.29M340.00 528.79L350.80 519.79M340.00 531.29L350.80 522.29M340.00 533.79L350.80 524.79M340.00 536.29L350.80 527.29M340.00 538.79L350.80 529.79M340.00 541.29L350.80 532.29M340.00 543.79L350.80 534.79M340.00 546.29L350.80 537.29M340.00 548.79L350.80 539.79M340.00 551.29L350.80 542.29M340.00 553.79L350.80 544.79M340.00 556.29L350.80 547.29M340.00 558.79L350.80 549.79M340.00 561.29L350.80 552.29M340.00 563.79L350.80 554.79M340.00 566.29L350.80 557.29M340.00 568.79L350.80 559.79M340.00 571.29L350.80 562.29M340.00 573.79L350.80 564.79M340.00 576.29L350.80 567.29M340.00 578.79L350.80 569.79M340.00 581.29L350.80 572.29M340.00 583.79L350.80 574.79M340.00 586.29L350.80 577.29M340.00 588.79L350.80 579.79M340.00 591.29L350.80 582.29M340.00 593.79L350.80 584.79M340.00 596.29L350.80 587.29M340.00 598.79L350.80 589.79M340.00 601.29L350.80 592.29M340.00 603.79L350.80 594.79M340.00 606.29L350.80 597.29M340.00 608.79L350.80 599.79M340.00 611.29L350.80 602.29M340.00 613.79L350.80 604.79M340.00 616.29L350.80 607.29M340.00 618.79L350.80 609.79M340.00 621.29L350.80 612.29M340.35 623.50L350.80 614.79M343.35 623.50L350.80 617.29M346.35 623.50L350.80 619.79M349.35 623.50L350.80 622.29" stroke="#7a7a7a" stroke-width="0.7" fill="none"/>
<rect x="340.45" y="453.49" width="9.90" height="170.01" fill="none" stroke="#777" stroke-width="0.9"/>
<path d="M345.50 453.49V450.50M341.00 450.50H350.00" stroke="#5a5a5a" stroke-width="1" fill="none"/>
<text class="tx" text-anchor="middle" transform="translate(345.40,638.70) scale(1.2,1)">50</text>
<text class="soy" text-anchor="middle" transform="translate(178.80,662.50) scale(1.23,1)">Soybean</text>
<text class="t115" text-anchor="middle" transform="translate(316.61,654.30) scale(1.195,1)">Cystein</text>
<text class="t115" text-anchor="middle" transform="translate(317.01,669.30) scale(1.2,1)">(μM)</text>
</svg>
<div class="ttl" style="left:159.7px;top:6.7px">(2<span class='h2'>-</span>A)</div><div class="ttl" style="left:550.0px;top:6.7px">(2<span class='h2'>-</span>B)</div><div class="ttl" style="left:159.7px;top:359.0px">(2<span class='h2'>-</span>C)</div>
<div id="cap">
<div>The data are expressed as the % inhibition of the scavenging activity for the DPPH radical (2<span class="h">-</span>A), superoxide (2<span class="h">-</span>B),</div>
<div>and peroxynitrite (2<span class="h">-</span>C). Each bar represents the mean<span class="pm">±</span>SD of triplicate determinations. A: Baek<span class="h">-</span>tae, B: Heuk<span class="h">-</span>tae,</div>
<div>C: Seori<span class="h">-</span>tae, D: Seomok<span class="h">-</span>tae, E: Gangnang<span class="h">-</span>kong, F: Ultari<span class="h">-</span>kong, G: Chickpea, H: Lentils. <sup>abcdefg</sup>Values with</div>
<div class="last">different letters are significantly different at p&lt;0.05.</div>
</div>
</body></html>
